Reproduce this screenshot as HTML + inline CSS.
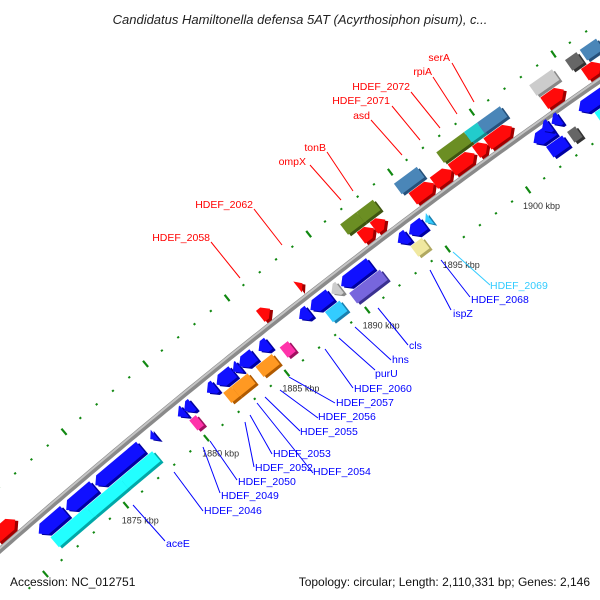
<!DOCTYPE html>
<html><head><meta charset="utf-8">
<style>
html,body{margin:0;padding:0;background:#fff;width:600px;height:600px;overflow:hidden;}
svg{display:block;}
.lbl{font-family:"Liberation Sans",sans-serif;font-size:10.5px;}
</style></head>
<body>
<svg id="map" width="600" height="600" viewBox="0 0 600 600" xmlns="http://www.w3.org/2000/svg">
<rect width="600" height="600" fill="#fff"/>
<text x="300" y="24" text-anchor="middle" font-family="Liberation Sans, sans-serif" font-style="italic" font-size="13" fill="#222">Candidatus Hamiltonella defensa 5AT (Acyrthosiphon pisum), c...</text>
<g id="ticks"></g>
<g id="backbone"></g>
<g id="genes"></g>
<g id="labels">
<g stroke="#ff0000" stroke-width="1">
<line x1="452" y1="63" x2="474" y2="102"/><line x1="433" y1="77" x2="457" y2="114"/><line x1="411" y1="92" x2="440" y2="128"/><line x1="392" y1="106" x2="420" y2="140"/><line x1="371" y1="120" x2="402" y2="155"/><line x1="327" y1="152" x2="353" y2="191"/><line x1="310" y1="165" x2="341" y2="200"/><line x1="254" y1="209" x2="282" y2="245"/><line x1="211" y1="242" x2="240" y2="278"/>
</g>
<g fill="#ff0000" class="lbl" text-anchor="end">
<text x="450" y="61">serA</text>
<text x="432" y="75">rpiA</text>
<text x="410" y="90">HDEF_2072</text>
<text x="390" y="104">HDEF_2071</text>
<text x="370" y="119">asd</text>
<text x="326" y="151">tonB</text>
<text x="306" y="165">ompX</text>
<text x="253" y="208">HDEF_2062</text>
<text x="210" y="241">HDEF_2058</text>
</g>
<line x1="453" y1="252" x2="490" y2="285" stroke="#33ccff"/>
<text x="490" y="289" class="lbl" fill="#33ccff">HDEF_2069</text>
<g stroke="#0000ff" stroke-width="1">
<line x1="441" y1="260" x2="470" y2="297"/><line x1="430" y1="270" x2="451" y2="310"/><line x1="378" y1="308" x2="408" y2="345"/><line x1="355" y1="327" x2="391" y2="360"/><line x1="339" y1="338" x2="375" y2="370"/><line x1="325" y1="349" x2="353" y2="388"/><line x1="289" y1="377" x2="335" y2="403"/><line x1="280" y1="390" x2="318" y2="418"/><line x1="265" y1="397" x2="300" y2="431"/><line x1="257" y1="403" x2="313" y2="473"/><line x1="250" y1="415" x2="272" y2="454"/><line x1="245" y1="422" x2="254" y2="467"/><line x1="210" y1="441" x2="237" y2="480"/><line x1="203" y1="447" x2="220" y2="493"/><line x1="174" y1="472" x2="203" y2="511"/><line x1="133" y1="505" x2="165" y2="541"/>
</g>
<g fill="#0000ff" class="lbl">
<text x="471" y="303">HDEF_2068</text>
<text x="453" y="317">ispZ</text>
<text x="409" y="349">cls</text>
<text x="392" y="363">hns</text>
<text x="375" y="377">purU</text>
<text x="354" y="392">HDEF_2060</text>
<text x="336" y="406">HDEF_2057</text>
<text x="318" y="420">HDEF_2056</text>
<text x="300" y="435">HDEF_2055</text>
<text x="313" y="475">HDEF_2054</text>
<text x="273" y="457">HDEF_2053</text>
<text x="255" y="471">HDEF_2052</text>
<text x="238" y="485">HDEF_2050</text>
<text x="221" y="499">HDEF_2049</text>
<text x="204" y="514">HDEF_2046</text>
<text x="166" y="547">aceE</text>
</g>
</g>
<text x="10" y="586" font-family="Liberation Sans, sans-serif" font-size="12" fill="#111">Accession: NC_012751</text>
<text x="590" y="586" text-anchor="end" font-family="Liberation Sans, sans-serif" font-size="12" fill="#111">Topology: circular; Length: 2,110,331 bp; Genes: 2,146</text>
</svg>
<script>
// gene data: start kbp, end kbp, side (1 above / -1 below), lane, colour
const geneStart = [1871.0,1872.7,1874.5,1877.9,1879.6,1880.0,1881.4,1882.0,1883.0,1883.4,1884.6,1887.1,1887.8,1889.1,1889.7,1893.2,1893.9,1894.9,1901.6,1902.3,1902.9,1904.4,
 1871.3,1873.5,1875.6,1879.9,1882.0,1882.5,1884.0,1885.5,1888.3,1889.8,1893.6,1902.0,1903.3,1905.0,
 1869.3,1885.7,1888.0,1891.9,1892.7,1895.1,1896.4,1897.5,1899.0,1899.7,1903.2,1905.7,
 1891.5,1892.5,1894.8,1897.4,1899.1,1899.9,1903.1,1905.3,1906.2];
const geneEnd = [1872.6,1874.4,1877.3,1878.2,1880.0,1880.5,1881.9,1883.0,1883.4,1884.3,1885.2,1887.7,1889.0,1889.6,1891.5,1893.8,1894.8,1895.2,1902.8,1902.8,1903.4,1906.2,
 1873.5,1875.6,1877.6,1880.3,1882.5,1883.5,1885.0,1886.0,1889.2,1891.7,1894.3,1903.0,1903.8,1906.5,
 1870.6,1886.3,1888.3,1892.7,1893.4,1896.4,1897.5,1898.9,1899.7,1901.2,1904.4,1906.7,
 1892.5,1893.5,1896.2,1899.1,1899.9,1901.3,1904.5,1906.0,1907.2];
const geneSide = [-1,-1,-1,-1,-1,-1,-1,-1,-1,-1,-1,-1,-1,-1,-1,-1,-1,-1,-1,-1,-1,-1,
 -1,-1,-1,-1,-1,-1,-1,-1,-1,-1,-1,-1,-1,-1,
 1,1,1,1,1,1,1,1,1,1,1,1,
 1,1,1,1,1,1,1,1,1];
const geneLane = [1,1,1,1,1,1,1,1,1,1,1,1,1,1,1,1,1,1,1,0.6,0.6,1,
 2,2,2,2,2,2,2,2,2,2,2,2,2,2,
 1,1,1,1,1,1,1,1,1,1,1,1,
 2,2,2,2,2,2,2,2,2];
const geneColor = ['blue','blue','blue','blue','blue','blue','blue','blue','blue','blue','blue','blue','blue','lgrey','blue','blue','blue','sky','blue','blue','blue','blue',
 'cyan','cyan','cyan','pink','orange','orange','orange','pink','sky','purple','yellow','blue','grey','cyan',
 'red','red','red','red','red','red','red','red','red','red','red','red',
 'olive','olive','steel','olive','teal','steel','lgrey','grey','steel'];
const tickKbp = [1866,1867,1868,1869,1870,1871,1872,1873,1874,1875,1876,1877,1878,1879,1880,1881,1882,1883,1884,1885,1886,1887,1888,1889,1890,1891,1892,1893,1894,1895,1896,1897,1898,1899,1900,1901,1902,1903,1904,1905,1906,1907,1908];
const tickLabels = ['1875 kbp','1880 kbp','1885 kbp','1890 kbp','1895 kbp','1900 kbp'];
const labelKbp = [1875,1880,1885,1890,1895,1900];

const COL = {blue:['#1010ff','#0000a0'],red:['#ff0a0a','#a00000'],cyan:['#22ffff','#00a8a8'],sky:['#33ccff','#1a80b0'],
 pink:['#ff33aa','#a01060'],orange:['#ff9922','#b05a00'],purple:['#7766dd','#3a3090'],yellow:['#f0e8a0','#b0a860'],
 lgrey:['#cccccc','#888'],grey:['#666666','#333'],olive:['#6b8e23','#3d5410'],steel:['#4a86b8','#25507a'],teal:['#22cccc','#118888']};
const B=-0.873, C=0.00015;
function lineY(x){return 550+B*x+C*x*x;}
function kx(k){return 95+16.2*(k-1875);}
// off > 0 : below-right of backbone; off < 0 : above-left
function pt(k,off){const x=kx(k),y=lineY(x),s=B+2*C*x,n=Math.hypot(1,s);return [x+(-s/n)*off,y+(1/n)*off];}
const NS='http://www.w3.org/2000/svg';
function mk(tag,attrs,parent){const e=document.createElementNS(NS,tag);for(const a in attrs)e.setAttribute(a,attrs[a]);parent.appendChild(e);return e;}

// backbone
const bb=document.getElementById('backbone');
let d='';for(let x=-10;x<=610;x+=5){d+=(x===-10?'M':'L')+x+','+lineY(x).toFixed(1);}
const bp1=mk('path',{d:d,fill:'none',stroke:'#8a8a8a','stroke-width':6},bb);


const bp2=mk('path',{d:d,fill:'none',stroke:'#c4c4c4','stroke-width':2,transform:'translate(-1,-1)'},bb);



// ticks
const tg=document.getElementById('ticks');
tickKbp.forEach(k=>{
  [48,-48].forEach(off=>{
    const major=k%5===0;
    const a=pt(k,off-(major?4:1)),b=pt(k,off+(major?4:1));
    const l=mk('line',{x1:a[0],y1:a[1],x2:b[0],y2:b[1],stroke:'#118811','stroke-width':2.2},tg);
    
    
  });
});
labelKbp.forEach((k,i)=>{
  const p=pt(k,64);
  const t=mk('text',{x:p[0]+4,y:p[1]+6,'text-anchor':'middle','font-family':'Liberation Sans, sans-serif','font-size':'9',fill:'#333'},tg);
  t.textContent=tickLabels[i];
  
  
});

// genes
const gg=document.getElementById('genes');
geneStart.forEach((s,i)=>{
  const e=geneEnd[i],side=geneSide[i],lane=geneLane[i];
  const off=-side*(lane>=2?30:13*lane);
  const p1=pt(s,off),p2=pt(e,off);
  const len=Math.hypot(p2[0]-p1[0],p2[1]-p1[1]);
  const ang=Math.atan2(p2[1]-p1[1],p2[0]-p1[0])*180/Math.PI;
  const h=lane>=2?13:14,hh=h/2;
  let pts;
  if(lane>=2){pts=[[0,-hh],[len,-hh],[len,hh],[0,hh]];}
  else{const a=Math.min(len,7);
    if(side>0)pts=[[0,-hh],[len-a,-hh],[len,0],[len-a,hh],[0,hh]];
    else pts=[[a,-hh],[len,-hh],[len,hh],[a,hh],[0,0]];}
  const ps=pts.map(q=>q.join(',')).join(' ');
  const g=mk('g',{transform:'translate('+p1[0].toFixed(1)+','+p1[1].toFixed(1)+') rotate('+ang.toFixed(2)+')'},gg);
  
  
  const c=COL[geneColor[i]];
  mk('polygon',{points:ps,fill:c[1],transform:'translate(1.5,3)'},g);
  mk('polygon',{points:ps,fill:c[0]},g);
});
</script>
</body></html>
